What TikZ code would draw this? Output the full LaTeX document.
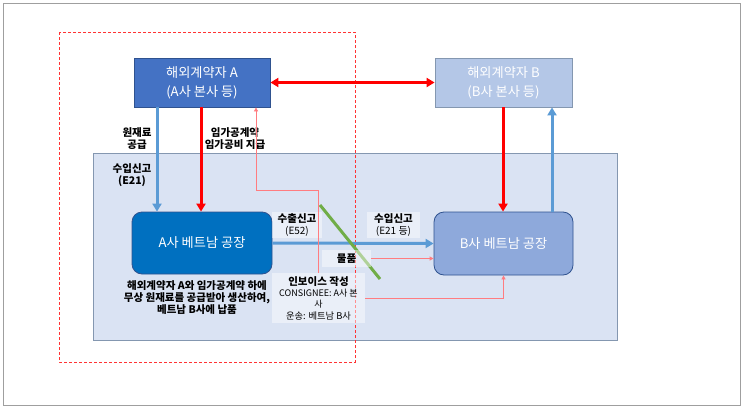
\documentclass[tikz,border=0pt]{standalone}
\usepackage{fontspec}
\setmainfont{Noto Sans CJK KR}
\usetikzlibrary{arrows.meta,calc}
\definecolor{bgblue}{HTML}{DAE3F3}
\definecolor{bgborder}{HTML}{8497B0}
\definecolor{hqa}{HTML}{4472C4}
\definecolor{hqb}{HTML}{B4C7E7}
\definecolor{faca}{HTML}{0070C0}
\definecolor{facb}{HTML}{8EA9DB}
\definecolor{boxborder}{HTML}{2F528F}
\definecolor{arrblue}{HTML}{5B9BD5}
\definecolor{thinred}{HTML}{FF7C80}
\definecolor{grn}{HTML}{70AD47}
\tikzset{
  box/.style={draw=boxborder, line width=0.8pt, minimum width=#1, text=white, align=center, inner sep=0pt},
  hqbox/.style={box=136pt, minimum height=49pt, font=\fontsize{13.2}{19}\selectfont},
  facbox/.style={box=140pt, minimum height=62pt, rounded corners=10pt, font=\fontsize{13.2}{15}\selectfont},
  lbl/.style={align=center, inner sep=0pt, font=\bfseries\fontsize{10.5}{12}\selectfont},
  lblbg/.style={fill=white, fill opacity=0.45, text opacity=1, align=center, inner sep=0pt},
  thickblue/.style={draw=arrblue, line width=3pt, -{Triangle[length=8pt,width=9pt]}},
  thickred/.style={draw=red, line width=3pt, -{Triangle[length=8pt,width=9pt]}},
  thinline/.style={draw=thinred, line width=0.8pt, -{Triangle[length=4pt,width=4pt]}}
}
\begin{document}
\begin{tikzpicture}[x=1pt,y=-1pt]
\useasboundingbox (0,0) rectangle (743,407);
\fill[white] (0,0) rectangle (743,407);
\draw[gray!75, line width=1pt] (3.5,3.5) rectangle (740,405);
% background area
\draw[fill=bgblue, draw=bgborder, line width=0.8pt] (93,153) rectangle (617,340);
% red dashed zone
\draw[red!80, dashed, line width=0.7pt, dash pattern=on 3pt off 2pt] (59,32) rectangle (355,362);
% nodes
\node[hqbox, fill=hqa] (hqA) at (202,82.5) {해외계약자 A\\(A사 본사 등)};
\node[hqbox, fill=hqb, draw=bgborder, minimum width=137pt] (hqB) at (503.5,82.5) {해외계약자 B\\(B사 본사 등)};
\node[facbox, fill=faca] (facA) at (202,243) {A사 베트남 공장};
\node[facbox, fill=facb, minimum width=139pt, minimum height=63pt] (facB) at (503.5,243.5) {B사 베트남 공장};
% coordinates
\coordinate (xa1) at (157,0);
\coordinate (xa2) at (201,0);
\coordinate (xb1) at (503,0);
\coordinate (xb2) at (552,0);
\coordinate (k1) at (256,190);
% thick arrows
\draw[thickblue] (hqA.south -| xa1) -- (facA.north -| xa1);
\draw[thickred] (hqA.south -| xa2) -- (facA.north -| xa2);
\draw[draw=red, line width=3pt, {Triangle[length=8pt,width=9pt]}-{Triangle[length=8pt,width=9pt]}] (hqA.east) -- (hqB.west);
\draw[thickred] (hqB.south -| xb1) -- (facB.north -| xb1);
\draw[thickblue] (facB.north -| xb2) -- (hqB.south -| xb2);
\draw[thickblue] (facA.east) -- (facB.west);
% green line
\coordinate (g1) at (320,205);
\coordinate (g2) at (380,279);
\draw[grn, line width=3pt] (g1) -- (g2);
% labels
\node[lbl] (l1) at (137,138.5) {원재료\\공급};
\node[lbl] (l2) at (235,138.5) {임가공계약\\임가공비 지급};
\node[lbl] (l3) at (132,175.5) {수입신고\\(E21)};
\node[lblbg, minimum width=50pt, minimum height=26pt] (exp) at (297,225)
  {{\bfseries\fontsize{10.5}{12}\selectfont 수출신고}\\{\fontsize{10}{12}\selectfont (E52)}};
\node[lblbg, minimum width=53pt, minimum height=26pt] (imp) at (393.5,225)
  {{\bfseries\fontsize{10.5}{12}\selectfont 수입신고}\\{\fontsize{10}{12}\selectfont (E21 등)}};
\node[lblbg, minimum width=49pt, minimum height=17pt, font=\bfseries\fontsize{10.5}{12}\selectfont] (goods) at (346.5,258.5) {물품};
\node[lblbg, minimum width=93pt, minimum height=50pt] (inv) at (318.5,298)
  {{\bfseries\fontsize{10.5}{12}\selectfont 인보이스 작성}\\[-1pt]{\fontsize{9}{11}\selectfont CONSIGNEE: A사 본}\\[-1pt]{\fontsize{9}{11}\selectfont 사}\\{\fontsize{9.3}{11}\selectfont 운송: 베트남 B사}};
\node[lbl] (desc) at (197,298) {해외계약자 A와 임가공계약 하에\\무상 원재료를 공급받아 생산하여,\\베트남 B사에 납품};
% thin red lines
\draw[thinline] (inv.north) |- (k1) -- (k1 |- hqA.south);
\draw[thinline] (goods.east) -- (goods.east -| facB.west);
\draw[thinline] (inv.east) -| (facB.south);
\end{tikzpicture}
\end{document}
